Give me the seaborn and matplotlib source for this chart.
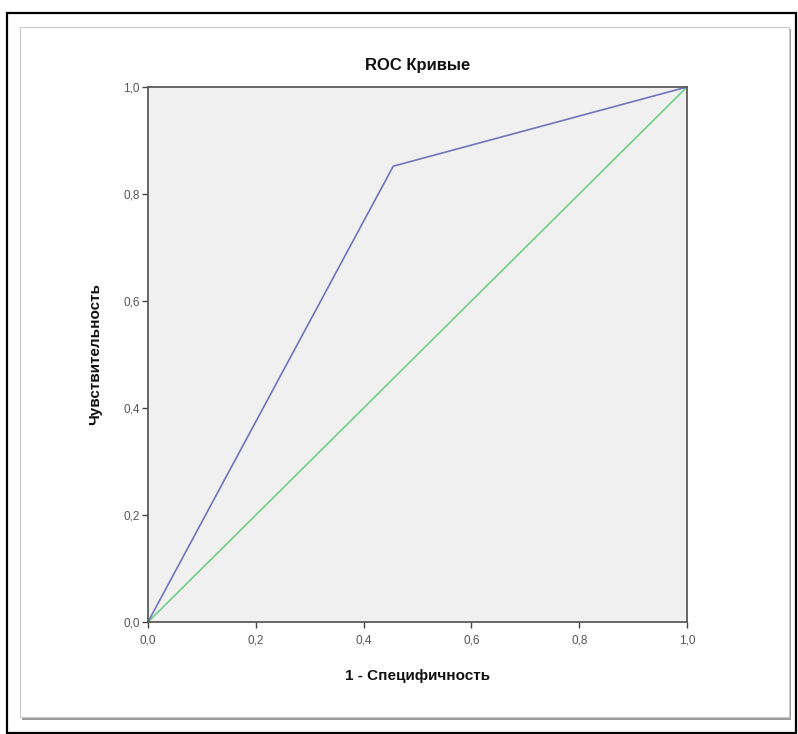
import matplotlib
matplotlib.use("Agg")
import matplotlib.pyplot as plt
import seaborn as sns
import pandas as pd
from matplotlib.patches import Rectangle

# Data
roc_fpr = [0.0, 0.455, 1.0]
roc_tpr = [0.0, 0.852, 1.0]
ref_x = [0.0, 1.0]
ref_y = [0.0, 1.0]
tick_vals = [0.0, 0.2, 0.4, 0.6, 0.8, 1.0]
tick_labels = ["0,0", "0,2", "0,4", "0,6", "0,8", "1,0"]
title = "ROC Кривые"
xlabel = "1 - Специфичность"
ylabel = "Чувствительность"

sns.set_style("white")
plt.rcParams['font.family'] = ['Liberation Sans', 'DejaVu Sans']

W, H = 798, 734
fig = plt.figure(figsize=(W / 100, H / 100), dpi=100)

# outer black frame
fig.patches.append(Rectangle((7 / W, 1 - 733 / H), (796 - 7) / W, (733 - 13) / H,
                             transform=fig.transFigure, fill=False,
                             edgecolor="black", linewidth=1.6, zorder=-3))
# inner box shadow
fig.patches.append(Rectangle((22 / W, 1 - 720 / H), (791 - 22) / W, (720 - 29) / H,
                             transform=fig.transFigure, facecolor="#9a9a9a",
                             edgecolor="none", zorder=-3))
fig.patches.append(Rectangle((20 / W, 1 - 717 / H), (789 - 20) / W, (717 - 27) / H,
                             transform=fig.transFigure, facecolor="white",
                             edgecolor="#c8c8c8", linewidth=0.8, zorder=-2))

ax = fig.add_axes([148 / W, 1 - 622 / H, (687 - 148) / W, (622 - 87) / H])
ax.set_zorder(1)
ax.set_facecolor("#f0f0f0")

df_roc = pd.DataFrame({"x": roc_fpr, "y": roc_tpr})
df_ref = pd.DataFrame({"x": ref_x, "y": ref_y})
sns.lineplot(data=df_ref, x="x", y="y", ax=ax, color="#72cf86", linewidth=1.2,
             sort=False, estimator=None)
sns.lineplot(data=df_roc, x="x", y="y", ax=ax, color="#6f74bd", linewidth=1.2,
             sort=False, estimator=None)

ax.set_xlim(0, 1)
ax.set_ylim(0, 1)
ax.set_xticks(tick_vals)
ax.set_xticklabels(tick_labels)
ax.set_yticks(tick_vals)
ax.set_yticklabels(tick_labels)
ax.tick_params(axis="both", direction="out", length=4, width=1.0, color="#444444",
               labelsize=8.5, labelcolor="#555555", pad=2,
               bottom=True, left=True)
ax.tick_params(axis="x", pad=5)
for s in ax.spines.values():
    s.set_color("#5a5a5a")
    s.set_linewidth(1.3)

ax.set_xlabel(xlabel, fontsize=11, fontweight="bold", color="#111111", labelpad=16)
ax.set_ylabel(ylabel, fontsize=11, fontweight="bold", color="#111111", labelpad=15)
ax.set_title(title, fontsize=12, fontweight="bold", color="#111111", pad=12)

fig.savefig("out.png", dpi=100)
